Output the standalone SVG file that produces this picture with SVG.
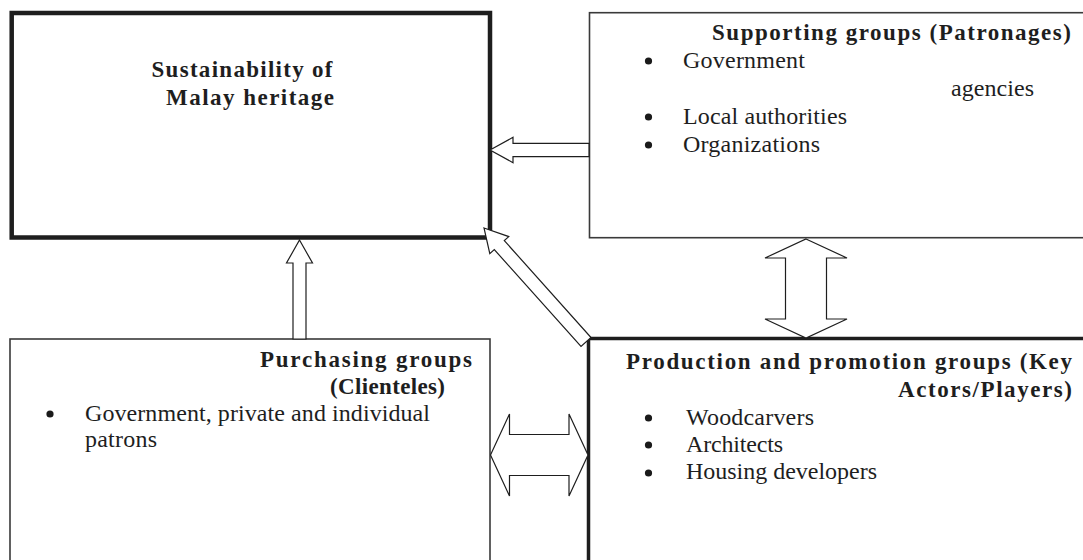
<svg xmlns="http://www.w3.org/2000/svg" width="1083" height="560" viewBox="0 0 1083 560">
<style>
.bg{fill:#fff}
.thin{fill:#fff;stroke:#3a3a3a;stroke-width:1.6}
.thick{fill:#fff;stroke:#1e1e1e;stroke-width:4.5}
.thick2{fill:#fff;stroke:#1e1e1e;stroke-width:3.5}
.h{font-family:"Liberation Serif","Times New Roman",serif;font-size:23px;font-weight:bold;fill:#1e1e1e}
.t{font-family:"Liberation Serif","Times New Roman",serif;font-size:24px;fill:#1e1e1e}
.dot{fill:#1a1a1a}
.arr{fill:#fff;stroke:#1e1e1e;stroke-width:1.2;stroke-linejoin:miter}
</style>
<rect class="bg" x="0" y="0" width="1083" height="560"/>
<g id="sustainability">
<rect class="thick" x="11.7" y="13" width="478.3" height="224.5"/>
<text class="h" x="151.5" y="77" textLength="181" lengthAdjust="spacing">Sustainability of</text>
<text class="h" x="166" y="105" textLength="168" lengthAdjust="spacing">Malay heritage</text>
</g>
<g id="supporting">
<rect class="thin" x="589.5" y="12.7" width="520" height="225"/>
<text class="h" x="712" y="40" textLength="359" lengthAdjust="spacing">Supporting groups (Patronages)</text>
<circle class="dot" cx="648.5" cy="61" r="3.6"/>
<text class="t" x="683" y="68" textLength="122" lengthAdjust="spacing">Government</text>
<text class="t" x="951" y="96" textLength="83" lengthAdjust="spacing">agencies</text>
<circle class="dot" cx="648.5" cy="117" r="3.6"/>
<text class="t" x="683" y="124" textLength="164" lengthAdjust="spacing">Local authorities</text>
<circle class="dot" cx="648.5" cy="145" r="3.6"/>
<text class="t" x="683" y="152" textLength="137" lengthAdjust="spacing">Organizations</text>
</g>
<g id="purchasing">
<rect class="thin" x="10" y="339" width="480" height="260"/>
<text class="h" x="260" y="367" textLength="212" lengthAdjust="spacing">Purchasing groups</text>
<text class="h" x="330" y="394" textLength="115" lengthAdjust="spacing">(Clienteles)</text>
<circle class="dot" cx="50" cy="414" r="3.6"/>
<text class="t" x="85" y="421" textLength="345" lengthAdjust="spacing">Government, private and individual</text>
<text class="t" x="85" y="447" textLength="72" lengthAdjust="spacing">patrons</text>
</g>
<g id="production">
<rect class="thick2" x="588.5" y="338.5" width="520" height="260"/>
<text class="h" x="626" y="369" textLength="446" lengthAdjust="spacing">Production and promotion groups (Key</text>
<text class="h" x="898" y="397" textLength="174" lengthAdjust="spacing">Actors/Players)</text>
<circle class="dot" cx="648.5" cy="418" r="3.6"/>
<text class="t" x="686" y="425" textLength="128" lengthAdjust="spacing">Woodcarvers</text>
<circle class="dot" cx="648.5" cy="445" r="3.6"/>
<text class="t" x="686" y="452" textLength="97" lengthAdjust="spacing">Architects</text>
<circle class="dot" cx="648.5" cy="473" r="3.6"/>
<text class="t" x="686" y="479" textLength="191" lengthAdjust="spacing">Housing developers</text>
</g>
<g id="connectors">
<polygon class="arr" points="490,150 513,137.3 513,143.3 589,143.3 589,156.7 513,156.7 513,162.7"/>
<polygon class="arr" points="299.5,240 312.5,263 306,263 306,339 293,339 293,263 286.5,263"/>
<polygon class="arr" points="484,228 508.8,236.6 504.3,240.6 591,337.5 581,346.5 494.3,249.6 489.8,253.6"/>
<polygon class="arr" points="806,239 847,258 826.5,258 826.5,319 847,319 806,338 765,319 785.5,319 785.5,258 765,258"/>
<polygon class="arr" points="490.5,455 509.5,414 509.5,434.5 569,434.5 569,414 588,455 569,496 569,475.5 509.5,475.5 509.5,496"/>
</g>
</svg>
